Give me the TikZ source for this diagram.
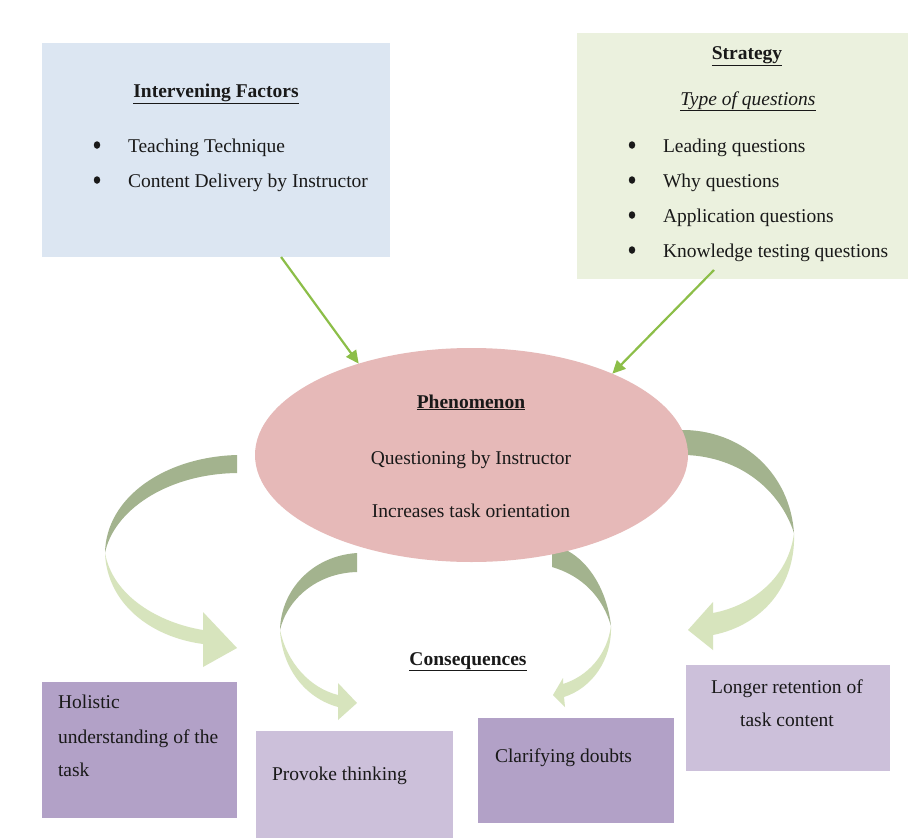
\documentclass[tikz,border=0pt]{standalone}
\usepackage{fontspec}
\setmainfont{Liberation Serif}
\usetikzlibrary{arrows.meta,shapes.geometric,calc}

\definecolor{factorblue}{RGB}{220,230,242}
\definecolor{strategygreen}{RGB}{235,241,222}
\definecolor{phenpink}{RGB}{230,185,184}
\definecolor{conseqdark}{RGB}{178,161,199}
\definecolor{conseqlight}{RGB}{204,192,218}
\definecolor{linkgreen}{RGB}{140,190,72}
\definecolor{bandback}{RGB}{163,179,142}
\definecolor{bandfront}{RGB}{215,228,189}
\definecolor{inkdark}{RGB}{25,25,25}

\begin{document}
\begin{tikzpicture}[x=1pt,y=-1pt,
  every node/.style={font=\fontsize{19.5}{23}\selectfont, inner sep=0pt, outer sep=0pt, text=inkdark},
  panel/.style={rectangle, anchor=north west, draw=none},
  heading/.style={anchor=base, font=\fontsize{19.5}{23}\selectfont\bfseries},
  centred/.style={anchor=base},
  item/.style={anchor=base west},
  bulletmark/.style={ellipse, fill=inkdark, minimum width=6.5pt, minimum height=7.5pt},
  link/.style={draw=linkgreen, line width=2.2pt, -{Triangle[length=13pt,width=12pt]}},
  bandrear/.style={fill=bandback},
  bandfore/.style={fill=bandfront}]

\fill[white] (0,0) rectangle (908,838);
\useasboundingbox (0,0) rectangle (908,838);

% top panels
\node[panel, fill=factorblue, minimum width=348pt, minimum height=214pt] (factors) at (42,43) {};
\node[panel, fill=strategygreen, minimum width=331pt, minimum height=246pt] (strategy) at (577,33) {};

\node[heading] (factorsTitle) at (216,97) {\underline{Intervening Factors}};
\node[bulletmark] (fb1) at (97,145) {};
\node[item] (f1) at (128,152) {Teaching Technique};
\node[bulletmark] (fb2) at (97,180) {};
\node[item] (f2) at (128,187) {Content Delivery by Instructor};

\node[heading] (strategyTitle) at (747,59) {\underline{Strategy}};
\node[centred] (strategySub) at (748,105) {\itshape\underline{Type of questions}};
\node[bulletmark] (sb1) at (632,145) {};
\node[item] (s1) at (663,152) {Leading questions};
\node[bulletmark] (sb2) at (632,180) {};
\node[item] (s2) at (663,187) {Why questions};
\node[bulletmark] (sb3) at (632,215) {};
\node[item] (s3) at (663,222) {Application questions};
\node[bulletmark] (sb4) at (632,250) {};
\node[item] (s4) at (663,257) {Knowledge testing questions};

% curved ribbon arrows (drawn before the ellipse, which covers their roots)
\fill[bandrear] (237,455) .. controls (165,457) and (106,497) .. (105,553)
  .. controls (113,512) and (165,474) .. (237,473) -- cycle;
\fill[bandfore] (105,553) .. controls (107,603) and (150,637) .. (203,644)
  -- (203,667) -- (237,648) -- (203,612) -- (203,630)
  .. controls (160,623) and (113,597) .. (105,553) -- cycle;

\fill[bandrear] (357,553) .. controls (312,556) and (281,590) .. (280,630)
  .. controls (287,600) and (316,573) .. (357,572) -- cycle;
\fill[bandfore] (280,630) .. controls (282,668) and (305,698) .. (338,707)
  -- (338,720) -- (357,703) -- (338,683) -- (338,695)
  .. controls (310,688) and (287,663) .. (280,630) -- cycle;

\fill[bandrear] (552,545) .. controls (585,552) and (607,588) .. (611,626)
  .. controls (603,598) and (583,576) .. (552,567) -- cycle;
\fill[bandfore] (611,626) .. controls (612,660) and (592,688) .. (564,697)
  -- (565,707) -- (553,695) -- (563,678) -- (563,684)
  .. controls (588,676) and (607,655) .. (611,626) -- cycle;

\fill[bandrear] (680,430) -- (686,430) .. controls (745,432) and (790,475) .. (794,533)
  .. controls (780,490) and (740,457) .. (686,455) -- (680,455) -- cycle;
\fill[bandfore] (794,533) .. controls (796,585) and (763,625) .. (713,635)
  -- (713,650) -- (688,630) -- (713,602) -- (713,613)
  .. controls (755,605) and (789,575) .. (794,533) -- cycle;

% central phenomenon
\node[ellipse, fill=phenpink, minimum width=433pt, minimum height=214pt] (phen) at (471.5,455) {};
\node[heading] (phenTitle) at (471,408) {\underline{Phenomenon}};
\node[centred] (phen1) at (471,464) {Questioning by Instructor};
\node[centred] (phen2) at (471,517) {Increases task orientation};

% links into the phenomenon
\coordinate (factorsOut) at ($(factors.south west)!0.687!(factors.south east)$);
\coordinate (strategyOut) at ($(strategy.south west)+(137,-9)$);
\draw[link] (factorsOut) -- (phen.141.5);
\draw[link] (strategyOut) -- (phen.30.6);

% consequences
\node[heading] (conseqTitle) at (468,665) {\underline{Consequences}};

\node[panel, fill=conseqdark, minimum width=195pt, minimum height=136pt] (holistic) at (42,682) {};
\node[item] (h1) at (58,708) {Holistic};
\node[item] (h2) at (58,743) {understanding of the};
\node[item] (h3) at (58,776) {task};

\node[panel, fill=conseqlight, minimum width=197pt, minimum height=107pt] (provoke) at (256,731) {};
\node[item] (p1) at (272,780) {Provoke thinking};

\node[panel, fill=conseqdark, minimum width=196pt, minimum height=105pt] (clarify) at (478,718) {};
\node[item] (c1) at (495,762) {Clarifying doubts};

\node[panel, fill=conseqlight, minimum width=204pt, minimum height=106pt] (retention) at (686,665) {};
\node[centred] (r1) at (787,693) {Longer retention of};
\node[centred] (r2) at (787,726) {task content};

\end{tikzpicture}
\end{document}
